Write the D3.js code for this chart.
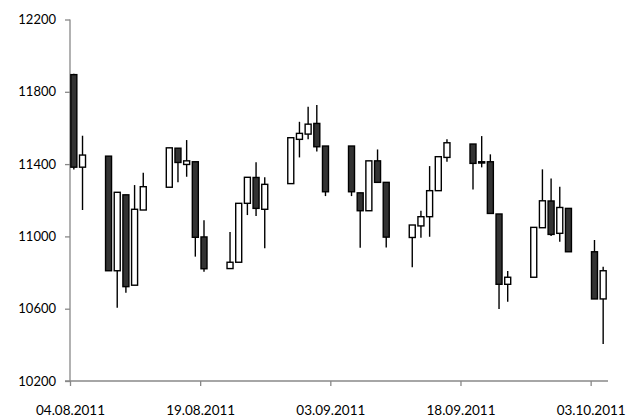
<!DOCTYPE html>
<html><head><meta charset="utf-8">
<script src="https://cdn.jsdelivr.net/npm/d3@7"></script>
<style>body{margin:0;background:#fff}svg{display:block}</style>
</head><body>
<svg id="c" width="633" height="418"></svg>
<script>
const dates = ["2011-08-04","2011-08-05","2011-08-08","2011-08-09","2011-08-10","2011-08-11","2011-08-12",
"2011-08-15","2011-08-16","2011-08-17","2011-08-18","2011-08-19",
"2011-08-22","2011-08-23","2011-08-24","2011-08-25","2011-08-26",
"2011-08-29","2011-08-30","2011-08-31","2011-09-01","2011-09-02",
"2011-09-05","2011-09-06","2011-09-07","2011-09-08","2011-09-09",
"2011-09-12","2011-09-13","2011-09-14","2011-09-15","2011-09-16",
"2011-09-19","2011-09-20","2011-09-21","2011-09-22","2011-09-23",
"2011-09-26","2011-09-27","2011-09-28","2011-09-29","2011-09-30",
"2011-10-03","2011-10-04"];
const open  = [11895,11383,11444,10810,11230,10730,11146, 11272,11488,11398,11413,10997, 10822,10857,11183,11326,11150, 11292,11537,11566,11625,11500, 11500,11241,11142,11418,11299, 10994,11058,11109,11253,11437, 11511,11413,11413,11124,10735, 10774,11048,11196,11017,11155, 10915,10654];
const high  = [11900,11557,11444,11244,11230,11284,11352, 11490,11488,11533,11413,11090, 11024,11183,11327,11410,11327, 11546,11634,11717,11727,11500, 11500,11241,11418,11481,11299, 11063,11142,11389,11441,11537, 11511,11555,11454,11124,10808, 11050,11371,11321,11275,11155, 10980,10832];
const low   = [11370,11146,10809,10605,10688,10730,11146, 11272,11299,11330,10888,10805, 10822,10857,11118,11113,10934, 11292,11437,11537,11470,11223, 11223,10937,11142,11299,10939, 10829,10993,10998,11253,11413, 11260,11382,11127,10598,10639, 10774,11048,11002,10970,10915, 10654,10405];
const close = [11383,11450,10810,11244,10722,11150,11275, 11490,11409,11418,10995,10821, 10857,11183,11327,11155,11288, 11546,11570,11621,11496,11247, 11247,11142,11418,11299,10996, 11063,11109,11253,11441,11518, 11404,11406,11127,10735,10774, 11050,11197,11011,11160,10915, 10654,10810];
const yTicks = [10200,10600,11000,11400,11800,12200];
const xTickDates = ["2011-08-04","2011-08-19","2011-09-03","2011-09-18","2011-10-03"];

const parse = d3.utcParse("%Y-%m-%d");
const fmt = d3.utcFormat("%d.%m.%Y");
const data = dates.map((d,i)=>({date:parse(d),o:open[i],h:high[i],l:low[i],c:close[i]}));

const svg = d3.select("#c");
const pL=70, pR=608, pT=19.5, pB=381;
const x = d3.scaleUtc().domain([parse("2011-08-04"), parse("2011-10-05")]).range([pL,pR]);
const y = d3.scaleLinear().domain([10200,12200]).range([pB,pT]);
const axisCol="#888";
const font="Lato, 'Open Sans', sans-serif";

// y axis
const ya = svg.append("g").attr("transform",`translate(${pL},0)`)
  .call(d3.axisLeft(y).tickValues(yTicks).tickSize(5).tickPadding(9).tickFormat(d3.format("d")));
ya.select(".domain").attr("stroke",axisCol).attr("stroke-width",1.3).attr("d",`M0,${pB}V${pT}`);
ya.selectAll(".tick line").attr("stroke",axisCol).attr("stroke-width",1.3);
ya.selectAll("text").attr("font-family",font).attr("font-size",13).attr("fill","#000");

// x axis
const xa = svg.append("g").attr("transform",`translate(0,${pB})`)
  .call(d3.axisBottom(x).tickValues(xTickDates.map(parse)).tickSize(5).tickPadding(19).tickFormat(fmt));
xa.select(".domain").attr("stroke",axisCol).attr("stroke-width",1.3).attr("d",`M${pL-5},0H${pR}`);
xa.selectAll(".tick line").attr("stroke",axisCol).attr("stroke-width",1.3);
xa.selectAll("text").attr("font-family",font).attr("font-size",13.5).attr("fill","#000");

const day = x(parse("2011-08-05"))-x(parse("2011-08-04"));
const bw = 6;
const cx = d => x(d.date) + day/2 - 0.5;
const g = svg.append("g");
g.selectAll("line.w").data(data).join("line")
  .attr("x1",cx).attr("x2",cx).attr("y1",d=>y(d.h)).attr("y2",d=>y(d.l))
  .attr("stroke","#000").attr("stroke-width",1.4);
g.selectAll("rect").data(data).join("rect")
  .attr("x",d=>cx(d)-bw/2).attr("width",bw)
  .attr("y",d=>y(Math.max(d.o,d.c))).attr("height",d=>Math.max(1,Math.abs(y(d.o)-y(d.c))))
  .attr("fill",d=>d.c>=d.o?"#fff":"#333").attr("stroke","#000").attr("stroke-width",1.4);
</script>
</body></html>
